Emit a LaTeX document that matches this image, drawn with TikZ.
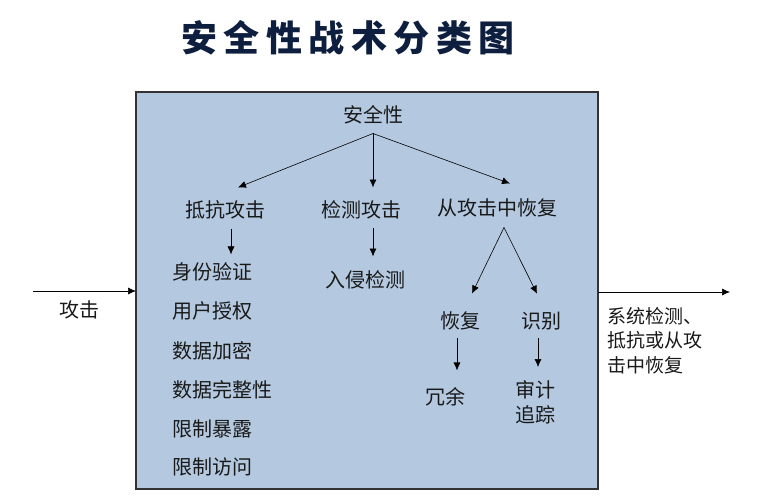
\documentclass[tikz,border=0pt]{standalone}
\usepackage{fontspec}
\setmainfont{Noto Sans CJK SC}
\usetikzlibrary{arrows.meta}
\definecolor{boxblue}{HTML}{B4C9E0}
\definecolor{titleblue}{HTML}{0D1E3F}
\tikzset{
  lbl/.style={inner sep=0pt, text=black!90, font=\fontsize{20}{24}\selectfont},
  arr/.style={-{Latex[length=8pt,width=7pt]}, line width=0.6pt}
}
\begin{document}
\begin{tikzpicture}[x=1pt,y=-1pt]
    \useasboundingbox (0,0) rectangle (758,497);
    \node[inner sep=0pt, text=titleblue, font=\bfseries\fontsize{36}{40}\selectfont\addfontfeature{LetterSpace=18}] (title) at (348,38) {安全性战术分类图};
    \draw[fill=boxblue, draw=black!80, line width=1.1pt] (136,92) rectangle (598,489);

    \node[lbl] (sec) at (373,115) {安全性};
    \node[lbl] (resist) at (225,210) {抵抗攻击};
    \node[lbl] (detect) at (361,210) {检测攻击};
    \node[lbl] (recov) at (497,208) {从攻击中恢复};

    \node[lbl, anchor=west] (auth) at (172,272) {身份验证};
    \node[lbl, anchor=west] (user) at (172,311) {用户授权};
    \node[lbl, anchor=west] (crypt) at (172,351) {数据加密};
    \node[lbl, anchor=west] (integ) at (172,390) {数据完整性};
    \node[lbl, anchor=west] (expose) at (172,429) {限制暴露};
    \node[lbl, anchor=west] (access) at (172,467) {限制访问};

    \node[lbl] (intrude) at (365,280) {入侵检测};
    \node[lbl] (restore) at (460,321) {恢复};
    \node[lbl] (ident) at (541,321) {识别};
    \node[lbl] (redund) at (445,397) {冗余};
    \node[lbl, align=center, font=\fontsize{20}{25}\selectfont] (audit) at (535,402) {审计\\追踪};

    \node[lbl] (attack) at (79,310) {攻击};
    \node[lbl, anchor=north west, align=left, font=\fontsize{19}{24.5}\selectfont] (result) at (607,307) {系统检测、\\抵抗或从攻\\击中恢复};

    \coordinate (secfork) at ([yshift=-9pt]sec.south);
    \draw[arr] (secfork) -- ([xshift=13pt,yshift=13pt]resist.north);
    \draw[arr] (secfork) -- ([xshift=12pt,yshift=13pt]detect.north);
    \draw[arr] (secfork) -- ([xshift=13pt,yshift=15pt]recov.north);

    \coordinate (rs) at ([xshift=6pt,yshift=-9pt]resist.south);
    \draw[arr, shorten >=8pt] (rs) -- (rs |- auth.north);
    \coordinate (ds) at ([xshift=12pt,yshift=-9pt]detect.south);
    \draw[arr, shorten >=14pt] (ds) -- (ds |- intrude.north);

    \coordinate (rf) at ([xshift=7pt,yshift=-10pt]recov.south);
    \draw[arr] (rf) -- ([xshift=12pt,yshift=18pt]restore.north);
    \draw[arr] (rf) -- ([xshift=-4pt,yshift=18pt]ident.north);

    \coordinate (ts) at ([xshift=-3pt,yshift=-8pt]restore.south);
    \draw[arr, shorten >=17pt] (ts) -- (ts |- redund.north);
    \coordinate (is) at ([xshift=-3pt,yshift=-8pt]ident.south);
    \draw[arr, shorten >=13pt] (is) -- (is |- audit.north);

    \coordinate (inleft) at (33,291);
    \draw[arr] (inleft) -- (136,291);
    \draw[arr] (598,292) -- (730,292);
\end{tikzpicture}
\end{document}
